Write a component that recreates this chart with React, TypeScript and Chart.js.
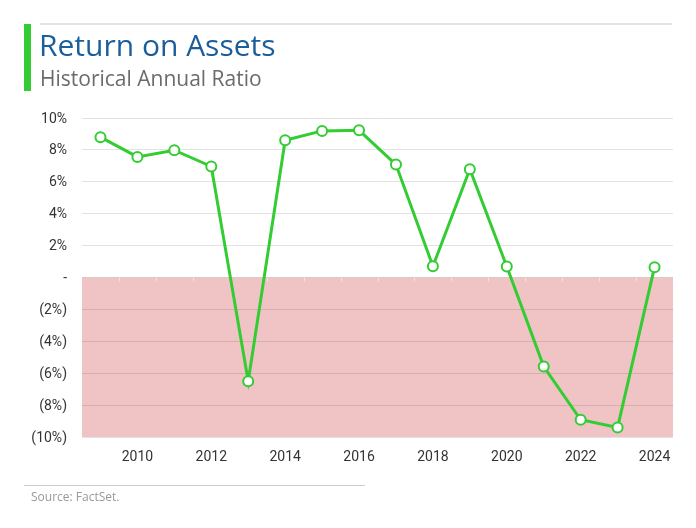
import React, { useEffect, useRef } from "react";
import { Chart, registerables } from "chart.js";

Chart.register(...registerables);

const years = ["2009", "2010", "2011", "2012", "2013", "2014", "2015", "2016", "2017", "2018", "2019", "2020", "2021", "2022", "2023", "2024"];
const roaValues = [8.8, 7.56, 7.98, 6.96, -6.5, 8.6, 9.19, 9.23, 7.08, 0.71, 6.79, 0.69, -5.58, -8.92, -9.4, 0.65];
const xTickLabels = ["", "2010", "", "2012", "", "2014", "", "2016", "", "2018", "", "2020", "", "2022", "", "2024"];
const yMin = -10;
const yMax = 10;
const yStep = 2;

const GREEN = "#33cc33";
const FONT = "Roboto, 'Noto Sans', sans-serif";
const TITLE_FONT = "'Open Sans', 'Noto Sans', sans-serif";

function formatPct(v: number): string {
  if (Math.abs(v) < 1e-9) return "-";
  if (v < 0) return `(${Math.abs(v)}%)`;
  return `${v}%`;
}

const negativeZonePlugin = {
  id: "negativeZone",
  beforeDraw(chart: any) {
    const { ctx, chartArea, scales } = chart;
    const y0 = scales.y.getPixelForValue(0);
    const yb = scales.y.getPixelForValue(yMin);
    ctx.save();
    ctx.fillStyle = "rgb(240,196,197)";
    ctx.fillRect(chartArea.left, y0, chartArea.right - chartArea.left, yb - y0);
    ctx.restore();
  },
  beforeDatasetsDraw(chart: any) {
    const { ctx, scales } = chart;
    const x = scales.x;
    const y0 = scales.y.getPixelForValue(0);
    ctx.save();
    ctx.strokeStyle = "rgba(255,255,255,0.45)";
    ctx.lineWidth = 1;
    for (let i = 1; i < years.length; i++) {
      const px = Math.round((x.getPixelForValue(i - 1) + x.getPixelForValue(i)) / 2) + 0.5;
      ctx.beginPath();
      ctx.moveTo(px, y0);
      ctx.lineTo(px, y0 + 4);
      ctx.stroke();
    }
    ctx.restore();
  },
};

export default function App() {
  const canvasRef = useRef<HTMLCanvasElement | null>(null);

  useEffect(() => {
    document.body.style.margin = "0";
    const canvas = canvasRef.current;
    if (!canvas) return;
    const chart = new Chart(canvas, {
      type: "line",
      data: {
        labels: years,
        datasets: [
          {
            data: roaValues,
            borderColor: GREEN,
            borderWidth: 3,
            pointRadius: 5,
            pointBorderWidth: 2,
            pointBackgroundColor: "#ffffff",
            pointBorderColor: GREEN,
            tension: 0,
          },
        ],
      },
      options: {
        animation: false,
        responsive: false,
        maintainAspectRatio: false,
        layout: { padding: { top: 118, right: 23, bottom: 51, left: 0 } },
        plugins: { legend: { display: false }, tooltip: { enabled: false } },
        scales: {
          x: {
            type: "category",
            offset: true,
            grid: { display: false, drawTicks: false },
            border: { display: false },
            ticks: {
              autoSkip: false,
              maxRotation: 0,
              padding: 12,
              color: "#333333",
              font: { family: FONT, size: 14 },
              callback: (_v: any, i: number) => xTickLabels[i],
            },
            afterFit: (s: any) => {
              s.height = 40;
            },
          },
          y: {
            min: yMin,
            max: yMax,
            grid: { color: "rgba(0,0,0,0.11)", lineWidth: 1, drawTicks: false },
            border: { display: false },
            ticks: {
              stepSize: yStep,
              padding: 15,
              labelOffset: 1,
              color: "#333333",
              font: { family: FONT, size: 14 },
              callback: (v: any) => formatPct(Number(v)),
            },
            afterFit: (s: any) => {
              s.width = 82;
            },
          },
        },
      },
      plugins: [negativeZonePlugin],
    });
    return () => chart.destroy();
  }, []);

  return (
    <div style={{ position: "relative", width: 696, height: 528, background: "#fff", fontFamily: FONT }}>
      <canvas ref={canvasRef} width={696} height={528} style={{ position: "absolute", left: 0, top: 0, width: 696, height: 528 }} />
      <div style={{ position: "absolute", left: 40, top: 23, width: 632, height: 2, background: "#e3e3e3" }} />
      <div style={{ position: "absolute", left: 24, top: 24, width: 7, height: 67, background: GREEN }} />
      <div style={{ position: "absolute", left: 39, top: 27, fontFamily: TITLE_FONT, fontSize: 30, lineHeight: "36px", color: "#1b5e9b", whiteSpace: "nowrap" }}>
        Return on Assets
      </div>
      <div style={{ position: "absolute", left: 40, top: 66, fontFamily: TITLE_FONT, fontSize: 21, lineHeight: "24px", color: "#6b6b6b", whiteSpace: "nowrap" }}>
        Historical Annual Ratio
      </div>
      <div style={{ position: "absolute", left: 24, top: 485, width: 341, height: 1, background: "#cccccc" }} />
      <div style={{ position: "absolute", left: 31, top: 489, fontFamily: TITLE_FONT, fontSize: 12, lineHeight: "16px", color: "#999999", whiteSpace: "nowrap" }}>
        Source: FactSet.
      </div>
    </div>
  );
}
